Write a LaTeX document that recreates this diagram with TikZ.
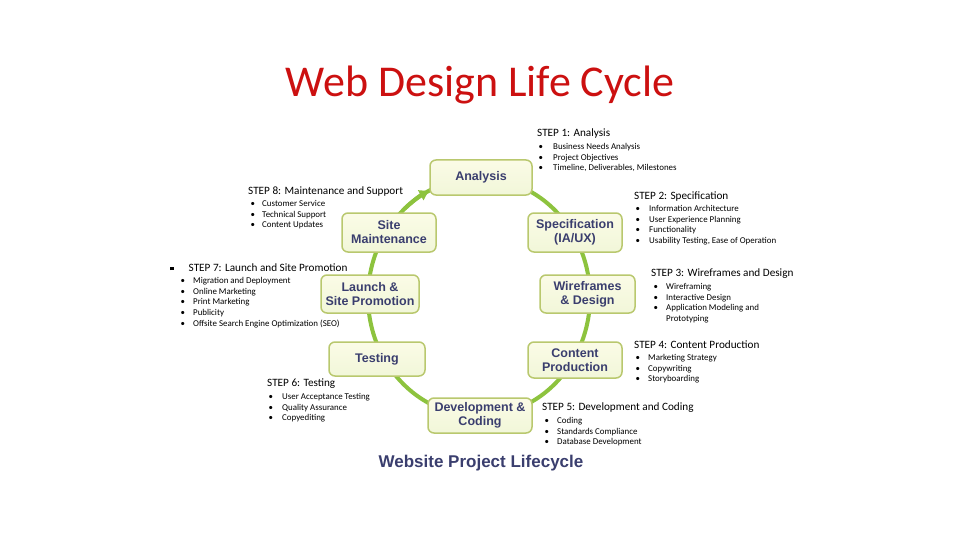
\documentclass[tikz,border=0pt]{standalone}
\usepackage{fontspec}
\setmainfont{Carlito}
\newfontfamily\boxfont{Liberation Sans}
\usetikzlibrary{arrows.meta,calc}
\definecolor{ringgreen}{RGB}{141,195,62}
\definecolor{boxfill}{RGB}{248,249,214}
\definecolor{boxline}{RGB}{185,200,110}
\definecolor{boxtext}{RGB}{58,62,110}
\definecolor{titlered}{RGB}{204,16,16}
\newcommand{\stepitems}[2]{\begin{tabular}{@{}p{#1}@{}l@{}}#2\end{tabular}}
\tikzset{
  lcbox/.style={draw=boxline,top color=boxfill!60!white,bottom color=boxfill!85!ringgreen!60,line width=1.5pt,rounded corners=6pt,
    align=center,font=\boxfont\bfseries\fontsize{12.5}{14}\selectfont,text=boxtext,inner sep=2pt},
  stephead/.style={anchor=west,inner sep=0,font=\fontsize{11.2}{13}\selectfont},
  steplist/.style={anchor=north west,inner sep=0,font=\fontsize{8.9}{10.8}\selectfont}
}
\begin{document}
\begin{tikzpicture}[x=1pt,y=-1pt]
	\useasboundingbox[fill=white] (0,0) rectangle (960,540);
	\node[font=\fontsize{44}{50}\selectfont,text=titlered,anchor=base,inner sep=0] (title) at (480,97) {Web Design Life Cycle};
	% ring
	\coordinate (c) at (479,297);
	\draw[ringgreen,line width=4pt] (c) ellipse [x radius=111,y radius=119];
	\draw[ringgreen,line width=4pt,-{Triangle[length=9pt,width=11pt]}] ($(c)+(228:111 and 119)$) arc[start angle=228,end angle=243,x radius=111,y radius=119];
	% boxes
	\node[lcbox,minimum width=102pt,minimum height=35pt] (ana) at (481,177.5) {Analysis};
	\node[lcbox,minimum width=94pt,minimum height=39pt] (spec) at (575,232.5) {Specification\\(IA/UX)};
	\node[lcbox,minimum width=95pt,minimum height=38pt] (wire) at (587.5,294) {Wireframes\\\& Design};
	\node[lcbox,minimum width=94pt,minimum height=36pt] (cont) at (575,360) {Content\\Production};
	\node[lcbox,minimum width=104pt,minimum height=35pt] (dev) at (480,415.5) {Development \&\\Coding};
	\node[lcbox,minimum width=96pt,minimum height=34pt] (test) at (377,359) {Testing};
	\node[lcbox,minimum width=98pt,minimum height=38pt] (launch) at (370,294) {Launch \&\\Site Promotion};
	\node[lcbox,minimum width=94pt,minimum height=39pt] (maint) at (389,232.5) {Site\\Maintenance};
	% steps
	\node[stephead] (s1) at (537,134) {STEP 1: Analysis};
	\node[steplist] (s1l) at (538.5,141.5) {\stepitems{14.5pt}{\textbullet & Business Needs Analysis\\ \textbullet & Project Objectives\\ \textbullet & Timeline, Deliverables, Milestones}};
	\node[stephead] (s2) at (634,197) {STEP 2: Specification};
	\node[steplist] (s2l) at (635.5,203.5) {\stepitems{13.5pt}{\textbullet & Information Architecture\\ \textbullet & User Experience Planning\\ \textbullet & Functionality\\ \textbullet & Usability Testing, Ease of Operation}};
	\node[stephead] (s3) at (651,274) {STEP 3: Wireframes and Design};
	\node[steplist] (s3l) at (653.5,281.5) {\stepitems{12.5pt}{\textbullet & Wireframing\\ \textbullet & Interactive Design\\ \textbullet & Application Modeling and\\ & Prototyping}};
	\node[stephead] (s4) at (634,345) {STEP 4: Content Production};
	\node[steplist] (s4l) at (635.5,352.5) {\stepitems{12.5pt}{\textbullet & Marketing Strategy\\ \textbullet & Copywriting\\ \textbullet & Storyboarding}};
	\node[stephead] (s5) at (542,408) {STEP 5: Development and Coding};
	\node[steplist] (s5l) at (544.5,415.5) {\stepitems{12.5pt}{\textbullet & Coding\\ \textbullet & Standards Compliance\\ \textbullet & Database Development}};
	\node[stephead] (s6) at (267,384) {STEP 6: Testing};
	\node[steplist] (s6l) at (268.5,391.5) {\stepitems{13.5pt}{\textbullet & User Acceptance Testing\\ \textbullet & Quality Assurance\\ \textbullet & Copyediting}};
	\node[stephead] (s7) at (170,268) {\rule[1.8pt]{3.5pt}{3.5pt}\hspace{15pt}STEP 7: Launch and Site Promotion};
	\node[steplist] (s7l) at (180.5,275.5) {\stepitems{12.5pt}{\textbullet & Migration and Deployment\\ \textbullet & Online Marketing\\ \textbullet & Print Marketing\\ \textbullet & Publicity\\ \textbullet & Offsite Search Engine Optimization (SEO)}};
	\node[stephead] (s8) at (248,192) {STEP 8: Maintenance and Support};
	\node[steplist] (s8l) at (250.5,198.5) {\stepitems{11.5pt}{\textbullet & Customer Service\\ \textbullet & Technical Support\\ \textbullet & Content Updates}};
	\node[font=\boxfont\bfseries\fontsize{17}{20}\selectfont,text=boxtext,anchor=base,inner sep=0] (sub) at (481,467) {Website Project Lifecycle};
\end{tikzpicture}
\end{document}
